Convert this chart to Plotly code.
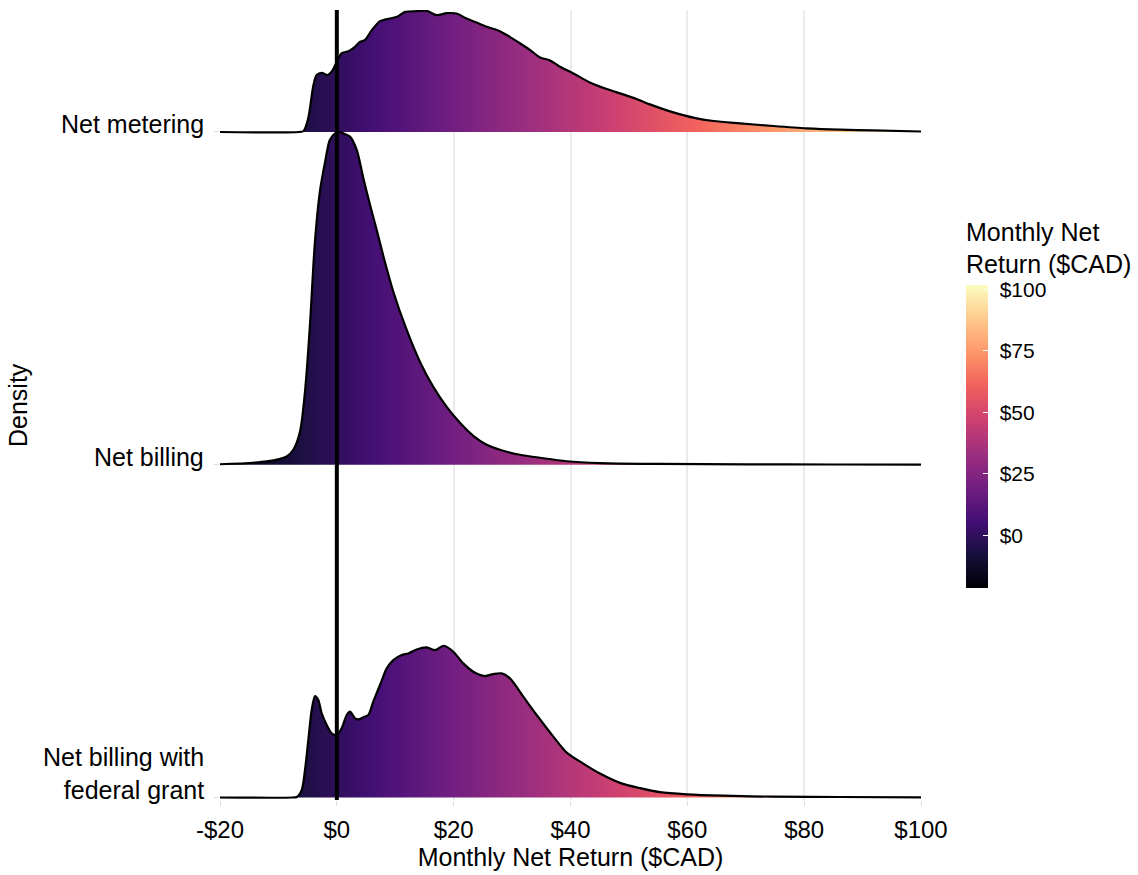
import plotly.graph_objects as go

# ---------------- data ----------------
categories = ["Net metering", "Net billing", "Net billing with<br>federal grant"]
offsets = [2, 1, 0]

x_tickvals = [-20, 0, 20, 40, 60, 80, 100]
x_ticktext = ["-$20", "$0", "$20", "$40", "$60", "$80", "$100"]

cb_tickvals = [0, 25, 50, 75, 100]
cb_ticktext = ["\u2004$0", "\u2004$25", "\u2004$50", "\u2004$75", "\u2004$100"]
color_min, color_max = -21, 102

# Net metering density (scaled so the tallest ridge = 1 row)
nm_x = [-20, -6.5, -5.7, -4.9, -4.0, -3.45, -2.6, -1.6, -0.9, 0.0, 0.8, 2.0, 3.1, 4.0, 4.8,
        6.0, 7.4, 9.1, 10.3, 11.7, 13.7, 15.4, 17.1, 18.8, 20.5, 22.2, 23.9, 25.7, 27.9,
        29.6, 31.4, 33.1, 34.8, 36.5, 38.2, 40.5, 43.3, 46.2, 49.0, 51.3, 53.6, 56.5,
        58.8, 61.6, 64.5, 69.0, 74.7, 80.4, 86.1, 91.8, 100]
nm_d = [0, 0, 0.003, 0.041, 0.141, 0.171, 0.178, 0.171, 0.181, 0.211, 0.236, 0.243, 0.256,
        0.271, 0.276, 0.306, 0.333, 0.341, 0.346, 0.361, 0.363, 0.364, 0.351, 0.357, 0.356,
        0.341, 0.329, 0.316, 0.303, 0.286, 0.266, 0.246, 0.224, 0.215, 0.196, 0.176, 0.149,
        0.129, 0.113, 0.099, 0.083, 0.065, 0.053, 0.041, 0.033, 0.026, 0.018, 0.011, 0.007,
        0.005, 0.0015]

# Net billing density
nb_x = [-20, -12.0, -8.6, -7.45, -6.3, -5.45, -4.6, -3.75, -2.9, -2.0, -1.2, -0.3, 0.45, 1.1,
        2.25, 3.40, 4.53, 5.68, 6.82, 7.95, 9.67, 11.96, 14.24, 16.51, 18.81, 21.08, 23.36,
        25.65, 27.93, 31.35, 34.78, 39.35, 45.05, 55, 70, 85, 100]
nb_d = [0.0015, 0.010, 0.025, 0.045, 0.100, 0.220, 0.420, 0.670, 0.821, 0.911, 0.976, 0.996,
        1.0, 0.996, 0.986, 0.946, 0.862, 0.781, 0.706, 0.628, 0.520, 0.405, 0.309, 0.234,
        0.174, 0.126, 0.087, 0.060, 0.045, 0.030, 0.021, 0.0105, 0.005, 0.0025, 0.0012,
        0.0008, 0.0005]

# Net billing with federal grant density
fg_x = [-20, -7.5, -6.86, -6.0, -5.45, -4.88, -4.3, -3.74, -3.17, -2.59, -1.73, -0.88, -0.02,
        0.83, 1.69, 2.25, 3.11, 3.67, 4.53, 5.39, 6.24, 7.39, 8.54, 9.67, 11.11, 12.24,
        13.67, 15.38, 16.8, 18.34, 19.94, 21.65, 23.36, 25.36, 26.78, 28.22, 29.64, 31.92,
        34.21, 37.06, 39.35, 42.19, 45.05, 48.47, 51.9, 55.32, 59.89, 66.16, 74.72, 86.13, 100]
fg_d = [0, 0, 0.0015, 0.023, 0.083, 0.173, 0.263, 0.305, 0.293, 0.253, 0.218, 0.193, 0.188,
        0.208, 0.248, 0.258, 0.238, 0.235, 0.241, 0.248, 0.288, 0.338, 0.388, 0.413, 0.428,
        0.433, 0.445, 0.451, 0.443, 0.456, 0.438, 0.403, 0.378, 0.365, 0.371, 0.373, 0.358,
        0.303, 0.248, 0.183, 0.135, 0.102, 0.072, 0.044, 0.028, 0.016, 0.0096, 0.0054,
        0.0024, 0.0015, 0.0006]

series = [(nm_x, nm_d), (nb_x, nb_d), (fg_x, fg_d)]

# ---------------- styling ----------------
FONT = "Liberation Sans, Arial, Helvetica, sans-serif"
magma = ["#000004", "#180f3d", "#440f76", "#721f81", "#9e2f7f",
         "#cd4071", "#f1605d", "#fd9668", "#feca8d", "#fcfdbf"]
magma_scale = [[i / (len(magma) - 1), c] for i, c in enumerate(magma)]

fig = go.Figure()

for (xs, ds), off in zip(series, offsets):
    fig.add_trace(go.Scatter(
        x=[x_tickvals[0], x_tickvals[-1]], y=[off, off], mode="lines",
        line=dict(width=0, color="rgba(0,0,0,0)"), showlegend=False, hoverinfo="skip"))
    fig.add_trace(go.Scatter(
        x=xs, y=[off + d for d in ds], mode="lines",
        line=dict(color="black", width=2.2, shape="spline", smoothing=0.8),
        fill="tonexty",
        fillgradient=dict(type="horizontal", colorscale=magma_scale,
                          start=color_min, stop=color_max),
        showlegend=False, hoverinfo="skip"))

# colour bar carrier
fig.add_trace(go.Scatter(
    x=[None], y=[None], mode="markers", showlegend=False, hoverinfo="skip",
    marker=dict(color=[color_min], colorscale=magma_scale, cmin=color_min, cmax=color_max,
                showscale=True,
                colorbar=dict(
                    thickness=22, thicknessmode="pixels",
                    len=368, lenmode="pixels",
                    x=(966 - 220) / 701, xanchor="left", xpad=0,
                    y=(800 - 587) / 790, yanchor="bottom", ypad=0,
                    outlinewidth=0,
                    tickvals=cb_tickvals, ticktext=cb_ticktext,
                    ticks="inside", tickcolor="white", ticklen=5, tickwidth=1,
                    tickfont=dict(family=FONT, size=21, color="black"),
                    title=dict(text="Monthly Net<br>Return ($CAD)", side="top",
                               font=dict(family=FONT, size=25, color="black"))))))

# vertical line at $0
fig.add_shape(type="line", x0=0, x1=0, xref="x", y0=0, y1=1, yref="paper",
              line=dict(color="black", width=4), layer="above")

# ridge labels
for lab, off in zip(categories, offsets):
    fig.add_annotation(text=lab, x=0, xref="paper", y=off, yref="y",
                       xanchor="right", yanchor="bottom", xshift=-14, yshift=-8,
                       align="right", showarrow=False,
                       font=dict(family=FONT, size=25, color="black"))

fig.add_annotation(text="Density", x=(18 - 220) / 701, xref="paper",
                   y=0.5, yref="paper", showarrow=False, textangle=-90,
                   xanchor="center", yanchor="middle",
                   font=dict(family=FONT, size=25, color="black"))

fig.update_layout(
    width=1138, height=875,
    margin=dict(l=220, r=217, t=10, b=75, autoexpand=False),
    plot_bgcolor="white", paper_bgcolor="white",
    font=dict(family=FONT, size=25, color="black"),
    xaxis=dict(range=[-20, 100], tickvals=x_tickvals, ticktext=x_ticktext,
               showgrid=True, gridcolor="#EBEBEB", gridwidth=2, zeroline=False,
               showline=False, ticks="outside", ticklen=5, tickcolor="#DDDDDD",
               ticklabelstandoff=3,
               tickfont=dict(family=FONT, size=24, color="black"),
               title=dict(text="Monthly Net Return ($CAD)", standoff=6,
                          font=dict(family=FONT, size=25, color="black"))),
    yaxis=dict(range=[-0.0075, 2.3666], tickvals=offsets, ticktext=["", "", ""],
               showgrid=False, zeroline=False, showline=False,
               ticks="outside", ticklen=5, tickcolor="#DDDDDD"),
)

fig.write_html("out.html")
